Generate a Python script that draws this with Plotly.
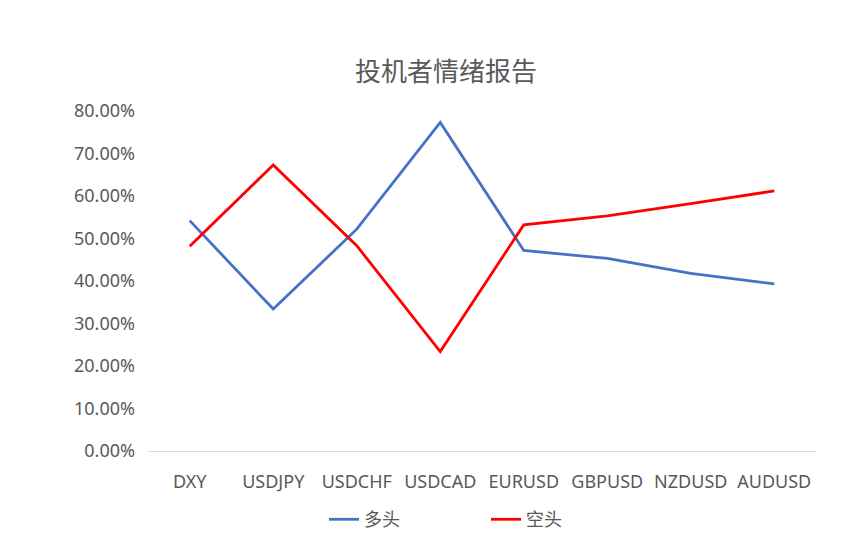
import plotly.graph_objects as go

categories = ["DXY", "USDJPY", "USDCHF", "USDCAD", "EURUSD", "GBPUSD", "NZDUSD", "AUDUSD"]
long_pct = [54.2, 33.4, 52.2, 77.3, 47.2, 45.3, 41.8, 39.3]
short_pct = [48.2, 67.3, 48.3, 23.4, 53.2, 55.3, 58.2, 61.2]
y_ticks = [0, 10, 20, 30, 40, 50, 60, 70, 80]
y_tick_labels = [f"{v:.2f}%" for v in y_ticks]

font_main = "Noto Sans, Noto Sans CJK SC, sans-serif"
gray = "#595959"

fig = go.Figure()
fig.add_trace(go.Scatter(x=categories, y=long_pct, name="多头", mode="lines",
                         line=dict(color="#4472C4", width=2.8)))
fig.add_trace(go.Scatter(x=categories, y=short_pct, name="空头", mode="lines",
                         line=dict(color="#FF0000", width=2.8)))

W, H = 859, 550
L, R, T, B = 148, 43, 111, 92
fig.update_layout(
    width=W, height=H,
    margin=dict(l=L, r=R, t=T, b=B, pad=0),
    paper_bgcolor="white", plot_bgcolor="white",
    font=dict(family=font_main, size=18, color=gray),
    title=dict(text="投机者情绪报告", x=446 / W, xanchor="center", xref="container",
               y=1 - 72 / H, yanchor="middle", yref="container",
               font=dict(family="Noto Sans CJK SC, sans-serif", size=26, color=gray)),
    xaxis=dict(type="category", range=[-0.5, 7.5], showgrid=False, zeroline=False,
               showline=True, linecolor="#D9D9D9", linewidth=1,
               ticks="", ticklabelstandoff=14, tickfont=dict(size=18, color=gray)),
    yaxis=dict(range=[0, 80], tickvals=y_ticks, ticktext=y_tick_labels, showgrid=False,
               zeroline=False, showline=False, ticks="", ticklabelstandoff=12,
               tickfont=dict(size=18, color=gray)),
    legend=dict(orientation="h", x=(324 - L) / (W - L - R), xanchor="left",
                y=-(528 - 458) / (H - T - B), yanchor="middle",
                entrywidth=157 - 40, entrywidthmode="pixels",
                font=dict(family="Noto Sans CJK SC, sans-serif", size=18, color=gray)),
    showlegend=True,
)

fig.write_html("out.html", config={"displayModeBar": False},
               post_script="document.body.style.margin='0';"
                           "document.documentElement.style.overflow='hidden';"
                           "document.body.style.overflow='hidden';")
